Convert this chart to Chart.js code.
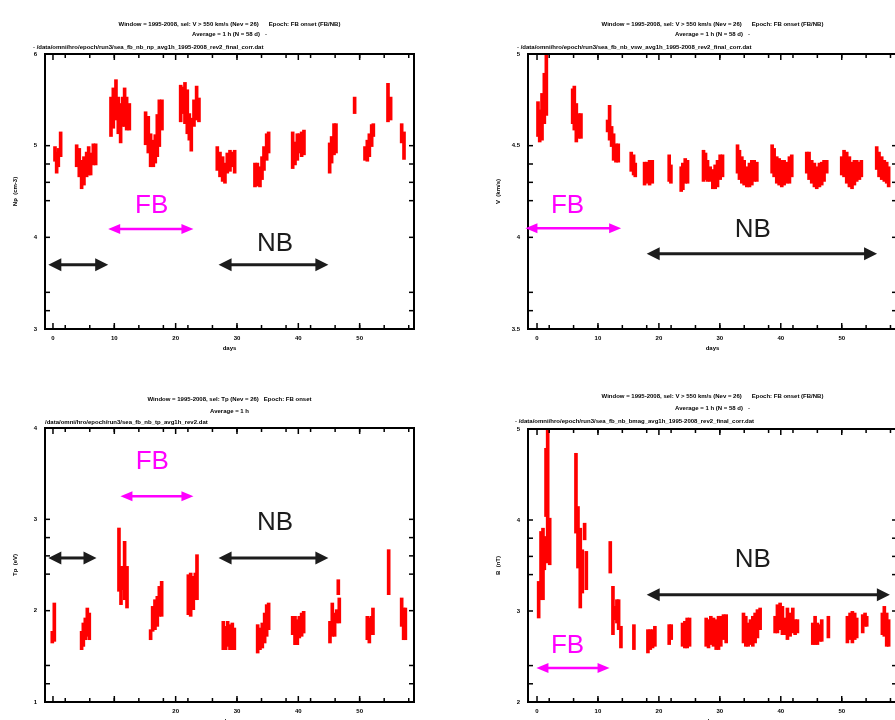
<!DOCTYPE html>
<html>
<head>
<meta charset="utf-8">
<title>Epoch panels</title>
<script src="https://cdn.jsdelivr.net/npm/chart.js@4.4.1/dist/chart.umd.min.js"></script>
<style>
  html, body { margin: 0; padding: 0; background: #fff; }
  body { width: 895px; height: 720px; overflow: hidden; position: relative; }
  canvas { position: absolute; }
</style>
</head>
<body>
<canvas id="plot1" width="450" height="360" style="left:0px;top:0px"></canvas>
<canvas id="plot2" width="460" height="360" style="left:450px;top:0px"></canvas>
<canvas id="plot3" width="450" height="370" style="left:0px;top:360px"></canvas>
<canvas id="plot4" width="460" height="370" style="left:450px;top:360px"></canvas>
<script>
// shared time axis (days from epoch)
const xLabels = [0, 10, 20, 30, 40, 50];
const xMinor = [2, 6, 10, 14, 18, 22, 26, 30, 34, 38, 42, 46, 50, 54, 58];

// ---- panel 1: density ----
const p1Time = [0.33, 0.6, 0.87, 1.25,
  3.86, 4.29, 4.67, 5.05, 5.49, 5.82, 6.14, 6.58, 6.96,
  9.46, 9.84, 10.27, 10.65, 11.03, 11.36, 11.68, 12.01, 12.45,
  15.1, 15.54, 15.92, 16.36, 16.68, 17.01, 17.34, 17.77,
  20.82, 21.14, 21.52, 21.9, 22.23, 22.55, 22.99, 23.42, 23.8,
  26.79, 27.23, 27.66, 28.04, 28.42, 28.86, 29.29, 29.62,
  32.93, 33.32, 33.75, 34.08, 34.4, 34.84, 35.16,
  39.08, 39.46, 39.84, 40.16, 40.54, 40.92,
  45.11, 45.43, 45.82, 46.14,
  49.18,
  50.87, 51.25, 51.58, 51.96, 52.23,
  54.62, 55.05,
  56.85, 57.23];
const p1Low = [4.83, 4.70, 4.77, 4.88,
  4.77, 4.66, 4.53, 4.57, 4.66, 4.68, 4.68, 4.79, 4.79,
  5.10, 5.19, 5.28, 5.13, 5.03, 5.21, 5.21, 5.17, 5.17,
  5.01, 4.92, 4.77, 4.77, 4.81, 4.88, 4.99, 5.17,
  5.26, 5.35, 5.24, 5.13, 5.06, 4.94, 5.21, 5.28, 5.26,
  4.73, 4.66, 4.61, 4.59, 4.70, 4.72, 4.77, 4.70,
  4.55, 4.56, 4.55, 4.63, 4.73, 4.84, 4.92,
  4.75, 4.79, 4.84, 4.92, 4.88, 4.90,
  4.70, 4.81, 4.90, 4.92,
  5.35,
  4.84, 4.83, 4.88, 4.99, 5.10,
  5.26, 5.28,
  5.03, 4.85];
const p1High = [4.99, 4.93, 4.97, 5.15,
  5.01, 4.97, 4.84, 4.88, 4.93, 4.99, 4.92, 5.02, 5.02,
  5.53, 5.63, 5.72, 5.53, 5.46, 5.53, 5.63, 5.53, 5.46,
  5.37, 5.32, 5.13, 5.06, 5.12, 5.34, 5.50, 5.50,
  5.66, 5.64, 5.69, 5.61, 5.35, 5.30, 5.50, 5.65, 5.52,
  4.99, 4.93, 4.88, 4.81, 4.92, 4.95, 4.93, 4.95,
  4.81, 4.81, 4.77, 4.88, 4.99, 5.13, 5.15,
  5.15, 5.04, 5.13, 5.13, 5.15, 5.17,
  5.03, 5.10, 5.24, 5.24,
  5.53,
  4.99, 5.06, 5.13, 5.23, 5.24,
  5.68, 5.53,
  5.24, 5.15];
const p1YTicks = [3, 4, 5, 6];
const p1YMinor = [4.8, 4.6, 4.4, 3.4, 3.2];
const p1Marks = [
  { kind: 'FB', from: 9.0, to: 22.9, y: 4.09, label: 'FB', lx: 16.1, ly: 4.34 },
  { kind: 'NB', from: -0.76, to: 9.0, y: 3.70 },
  { kind: 'NB', from: 27.0, to: 44.9, y: 3.70, label: 'NB', lx: 36.2, ly: 3.93 }
];

// ---- panel 2: speed ----
const p2Time = [0.16, 0.44, 0.82, 1.2, 1.53,
  5.85, 6.12, 6.45, 6.83, 7.21,
  11.58, 11.91, 12.24, 12.57, 12.95, 13.33,
  15.46, 15.85, 16.12,
  17.65, 18.03, 18.47, 18.91,
  21.69, 21.97,
  23.66, 23.93, 24.32, 24.7,
  27.32, 27.65, 27.98, 28.42, 28.85, 29.23, 29.62, 30.05, 30.44,
  32.9, 33.22, 33.61, 33.99, 34.43, 34.86, 35.25, 35.63, 36.07,
  38.58, 38.91, 39.34, 39.73, 40.16, 40.55, 40.98, 41.42, 41.8,
  44.26, 44.64, 45.08, 45.52, 45.9, 46.34, 46.72, 47.1, 47.54,
  50.0, 50.38, 50.82, 51.26, 51.69, 52.08, 52.46, 52.9, 53.22,
  55.74, 56.12, 56.56, 56.99, 57.38, 57.7];
const p2Low = [4.55, 4.52, 4.53, 4.62, 4.665,
  4.62, 4.585, 4.52, 4.54, 4.54,
  4.575, 4.53, 4.495, 4.42, 4.41, 4.41,
  4.36, 4.34, 4.33,
  4.285, 4.295, 4.285, 4.295,
  4.305, 4.295,
  4.25, 4.26, 4.295, 4.295,
  4.305, 4.315, 4.305, 4.305, 4.265, 4.265, 4.275, 4.315, 4.33,
  4.35, 4.315, 4.295, 4.285, 4.275, 4.275, 4.285, 4.305, 4.305,
  4.35, 4.33, 4.295, 4.285, 4.275, 4.285, 4.295, 4.295, 4.33,
  4.35, 4.315, 4.295, 4.275, 4.265, 4.275, 4.285, 4.305, 4.35,
  4.34, 4.33, 4.295, 4.275, 4.265, 4.285, 4.305, 4.315, 4.33,
  4.37, 4.33, 4.315, 4.305, 4.295, 4.275];
const p2High = [4.74, 4.695, 4.785, 4.895, 4.995,
  4.81, 4.825, 4.73, 4.675, 4.675,
  4.64, 4.72, 4.605, 4.565, 4.51, 4.51,
  4.465, 4.45, 4.405,
  4.41, 4.41, 4.42, 4.42,
  4.45, 4.395,
  4.385, 4.405, 4.43, 4.42,
  4.475, 4.46, 4.42, 4.385, 4.37, 4.395, 4.42, 4.45, 4.45,
  4.505, 4.475, 4.44, 4.42, 4.385, 4.405, 4.42, 4.42, 4.41,
  4.505, 4.485, 4.44, 4.43, 4.42, 4.42, 4.41, 4.44, 4.45,
  4.465, 4.465, 4.42, 4.405, 4.385, 4.405, 4.41, 4.42, 4.42,
  4.44, 4.475, 4.465, 4.44, 4.41, 4.42, 4.42, 4.41, 4.42,
  4.495, 4.465, 4.44, 4.42, 4.41, 4.385];
const p2YTicks = [3.5, 4, 4.5, 5];
const p2YMinor = [4.4, 4.3, 4.2, 3.7, 3.6];
const p2Marks = [
  { kind: 'FB', from: -1.9, to: 13.8, y: 4.05, label: 'FB', lx: 5.0, ly: 4.17 },
  { kind: 'NB', from: 18.0, to: 55.8, y: 3.91, label: 'NB', lx: 35.4, ly: 4.04 }
];

// ---- panel 3: temperature ----
const p3Time = [-0.11, 0.22,
  4.67, 4.95, 5.27, 5.6, 5.92,
  10.76, 11.09, 11.36, 11.68, 12.07,
  15.92, 16.25, 16.63, 17.01, 17.34, 17.72,
  22.07, 22.45, 22.88, 23.21, 23.48,
  27.77, 28.15, 28.48, 28.86, 29.24, 29.57,
  33.37, 33.75, 34.13, 34.51, 34.84, 35.16,
  39.08, 39.46, 39.84, 40.16, 40.54, 40.87,
  45.16, 45.54, 45.92, 46.25, 46.52, 46.68,
  51.25, 51.58, 51.9, 52.17,
  54.73,
  56.85, 57.17, 57.45];
const p3Low = [1.646, 1.664,
  1.573, 1.609, 1.682, 1.719, 1.682,
  2.212, 2.066, 2.230, 2.120, 2.029,
  1.682, 1.774, 1.792, 1.828, 1.938, 1.938,
  1.956, 1.938, 2.011, 2.120, 2.120,
  1.573, 1.573, 1.609, 1.573, 1.573, 1.573,
  1.536, 1.573, 1.591, 1.646, 1.719, 1.792,
  1.737, 1.628, 1.628, 1.701, 1.719, 1.755,
  1.646, 1.719, 1.719, 1.865, 2.175, 1.865,
  1.682, 1.646, 1.737, 1.737,
  2.175,
  1.828, 1.682, 1.682];
const p3High = [1.774, 2.084,
  1.774, 1.865, 1.920, 2.029, 1.974,
  2.905, 2.485, 2.485, 2.759, 2.485,
  1.792, 2.047, 2.120, 2.157, 2.266, 2.321,
  2.394, 2.412, 2.376, 2.412, 2.613,
  1.883, 1.828, 1.883, 1.847, 1.865, 1.810,
  1.847, 1.810, 1.865, 1.974, 2.066, 2.084,
  1.938, 1.938, 1.901, 1.938, 1.974, 1.993,
  1.883, 2.084, 1.974, 2.011, 2.339, 2.139,
  1.938, 1.920, 1.938, 2.029,
  2.668,
  2.139, 2.029, 2.029];
const p3YTicks = [1, 2, 3, 4];
const p3YMinor = [2.8, 2.6, 2.4, 1.4, 1.2];
const p3XLabels = [20, 30, 40, 50];
const p3Marks = [
  { kind: 'FB', from: 11.0, to: 22.9, y: 3.252, label: 'FB', lx: 16.2, ly: 3.635 },
  { kind: 'NB', from: -0.76, to: 7.1, y: 2.577 },
  { kind: 'NB', from: 27.0, to: 44.9, y: 2.577, label: 'NB', lx: 36.2, ly: 2.96 }
];

// ---- panel 4: field magnitude ----
const p4Time = [0.27, 0.66, 0.98, 1.2, 1.48, 1.75, 2.08,
  6.39, 6.72, 7.1, 7.43, 7.81, 8.09,
  12.02, 12.46, 12.79, 13.11, 13.39, 13.77,
  15.9,
  18.2, 18.58, 18.96, 19.34,
  21.69, 22.02,
  23.88, 24.26, 24.64, 25.03,
  27.76, 28.14, 28.52, 28.96, 29.4, 29.78, 30.16, 30.6, 31.04,
  33.88, 34.26, 34.64, 35.03, 35.41, 35.79, 36.17, 36.61,
  39.07, 39.45, 39.89, 40.27, 40.71, 41.09, 41.53, 41.97, 42.35, 42.73,
  45.25, 45.63, 46.01, 46.45, 46.72, 47.81,
  50.93, 51.37, 51.75, 52.13, 52.46, 53.44, 53.83, 54.1,
  56.67, 56.99, 57.38, 57.7];
const p4Low = [2.923, 3.124, 3.124, 3.453, 4.038, 3.527, 3.508,
  3.856, 3.472, 3.033, 3.197, 3.782, 3.234,
  3.417, 2.740, 2.905, 2.868, 2.795, 2.594,
  2.576,
  2.539, 2.576, 2.594, 2.612,
  2.631, 2.686,
  2.612, 2.594, 2.594, 2.612,
  2.612, 2.594, 2.631, 2.612, 2.576, 2.576, 2.612, 2.686, 2.649,
  2.649, 2.612, 2.612, 2.631, 2.612, 2.649, 2.704, 2.795,
  2.759, 2.759, 2.795, 2.740, 2.740, 2.686, 2.722, 2.759, 2.740, 2.759,
  2.631, 2.631, 2.631, 2.667, 2.667, 2.704,
  2.649, 2.686, 2.649, 2.686, 2.704, 2.759, 2.832, 2.832,
  2.740, 2.722, 2.612, 2.612];
const p4High = [3.325, 3.874, 3.910, 3.819, 4.788, 4.989, 4.020,
  4.733, 4.148, 3.910, 3.673, 3.965, 3.655,
  3.764, 3.271, 3.051, 3.124, 3.124, 2.832,
  2.850,
  2.795, 2.795, 2.795, 2.832,
  2.850, 2.850,
  2.868, 2.887, 2.923, 2.923,
  2.923, 2.905, 2.942, 2.923, 2.905, 2.942, 2.942, 2.960, 2.960,
  2.978, 2.942, 2.868, 2.905, 2.942, 2.978, 3.015, 3.033,
  2.942, 3.069, 3.088, 3.051, 2.923, 3.033, 2.978, 3.033, 2.905, 2.905,
  2.868, 2.942, 2.868, 2.850, 2.905, 2.942,
  2.942, 2.978, 2.996, 2.978, 2.923, 2.960, 2.978, 2.942,
  2.978, 3.051, 2.978, 2.905];
const p4YTicks = [2, 3, 4, 5];
const p4YMinor = [3.8, 3.6, 3.4, 2.4, 2.2];
const p4Marks = [
  { kind: 'FB', from: -0.1, to: 11.9, y: 2.375, label: 'FB', lx: 5.0, ly: 2.62 },
  { kind: 'NB', from: 18.0, to: 57.9, y: 3.179, label: 'NB', lx: 35.4, ly: 3.563 }
];

const panels = {
  plot1: {
    time: p1Time, low: p1Low, high: p1High, yTicks: p1YTicks, yMinor: p1YMinor, xLabels: xLabels, marks: p1Marks,
    xMin: -1.3, xMax: 58.86, yTitle: 'Np  (cm-3)', xTitle: 'days',
    pad: { left: 8, right: 36, top: 54, bottom: 4 },
    titles: ['Window = 1995-2008, sel: V > 550 km/s (Nev = 26)      Epoch: FB onset (FB/NB)',
             'Average = 1 h (N = 58 d)   -',
             '- /data/omni/hro/epoch/run3/sea_fb_nb_np_avg1h_1995-2008_rev2_final_corr.dat'],
    titleY: [-30, -20, -7], pathX: -12
  },
  plot2: {
    time: p2Time, low: p2Low, high: p2High, yTicks: p2YTicks, yMinor: p2YMinor, xLabels: xLabels, marks: p2Marks,
    xMin: -1.48, xMax: 59.07, yTitle: 'V  (km/s)', xTitle: 'days',
    pad: { left: 41, right: 13, top: 54, bottom: 4 },
    titles: ['Window = 1995-2008, sel: V > 550 km/s (Nev = 26)      Epoch: FB onset (FB/NB)',
             'Average = 1 h (N = 58 d)   -',
             '- /data/omni/hro/epoch/run3/sea_fb_nb_vsw_avg1h_1995-2008_rev2_final_corr.dat'],
    titleY: [-30, -20, -7], pathX: -11
  },
  plot3: {
    time: p3Time, low: p3Low, high: p3High, yTicks: p3YTicks, yMinor: p3YMinor, xLabels: p3XLabels, marks: p3Marks,
    xMin: -1.3, xMax: 58.86, yTitle: 'Tp  (eV)', xTitle: 'days',
    pad: { left: 8, right: 36, top: 68, bottom: 1 },
    titles: ['Window = 1995-2008, sel: Tp (Nev = 26)   Epoch: FB onset',
             'Average = 1 h',
             '/data/omni/hro/epoch/run3/sea_fb_nb_tp_avg1h_rev2.dat'],
    titleY: [-29, -17, -6], pathX: 0
  },
  plot4: {
    time: p4Time, low: p4Low, high: p4High, yTicks: p4YTicks, yMinor: p4YMinor, xLabels: xLabels, marks: p4Marks,
    xMin: -1.48, xMax: 59.07, yTitle: 'B  (nT)', xTitle: 'days',
    pad: { left: 41, right: 13, top: 69, bottom: 1 },
    titles: ['Window = 1995-2008, sel: V > 550 km/s (Nev = 26)      Epoch: FB onset (FB/NB)',
             'Average = 1 h (N = 58 d)   -',
             '- /data/omni/hro/epoch/run3/sea_fb_nb_bmag_avg1h_1995-2008_rev2_final_corr.dat'],
    titleY: [-33, -21, -8], pathX: -13
  }
};

const smallFont = { family: '"Liberation Sans", Arial, sans-serif', size: 6, weight: 'bold' };
const markStyle = {
  FB: { color: '#ff00ff', width: 2.5, head: 12, half: 5 },
  NB: { color: '#1c1c1c', width: 3, head: 13, half: 6.5 }
};

function arrow(ctx, x1, x2, y, s) {
  ctx.strokeStyle = s.color;
  ctx.fillStyle = s.color;
  ctx.lineWidth = s.width;
  ctx.beginPath();
  ctx.moveTo(x1 + s.head * 0.7, y);
  ctx.lineTo(x2 - s.head * 0.7, y);
  ctx.stroke();
  ctx.beginPath();
  ctx.moveTo(x1, y);
  ctx.lineTo(x1 + s.head, y - s.half);
  ctx.lineTo(x1 + s.head, y + s.half);
  ctx.closePath();
  ctx.fill();
  ctx.beginPath();
  ctx.moveTo(x2, y);
  ctx.lineTo(x2 - s.head, y - s.half);
  ctx.lineTo(x2 - s.head, y + s.half);
  ctx.closePath();
  ctx.fill();
}

// box with inward ticks on all four sides, titles, FB/NB markers
const framePlugin = {
  id: 'frame',
  afterDraw(chart) {
    const p = panels[chart.canvas.id];
    const { ctx, chartArea: a } = chart;
    const sx = chart.scales.x, sy = chart.scales.y;
    ctx.save();
    ctx.strokeStyle = '#000';
    ctx.lineWidth = 2;
    ctx.strokeRect(a.left, a.top, a.right - a.left, a.bottom - a.top);
    ctx.lineWidth = 1.5;
    const seg = (x1, y1, x2, y2) => { ctx.beginPath(); ctx.moveTo(x1, y1); ctx.lineTo(x2, y2); ctx.stroke(); };
    xMinor.forEach(v => {
      const px = sx.getPixelForValue(v);
      seg(px, a.bottom, px, a.bottom - 4);
      seg(px, a.top, px, a.top + 4);
    });
    xLabels.forEach(v => {
      const px = sx.getPixelForValue(v);
      seg(px, a.bottom, px, a.bottom - 6);
      seg(px, a.top, px, a.top + 6);
    });
    p.yTicks.concat(p.yMinor).forEach(v => {
      const py = sy.getPixelForValue(v);
      seg(a.left, py, a.left + 5, py);
      seg(a.right, py, a.right - 5, py);
    });

    ctx.fillStyle = '#000';
    ctx.font = 'bold 6px "Liberation Sans", Arial, sans-serif';
    ctx.textBaseline = 'middle';
    ctx.textAlign = 'center';
    const cx = (a.left + a.right) / 2;
    ctx.fillText(p.titles[0], cx, a.top + p.titleY[0]);
    ctx.fillText(p.titles[1], cx, a.top + p.titleY[1]);
    ctx.textAlign = 'left';
    ctx.fillText(p.titles[2], a.left + p.pathX, a.top + p.titleY[2]);

    p.marks.forEach(m => {
      const s = markStyle[m.kind];
      arrow(ctx, sx.getPixelForValue(m.from), sx.getPixelForValue(m.to), sy.getPixelForValue(m.y), s);
      if (m.label) {
        ctx.fillStyle = s.color;
        ctx.font = '26px "Liberation Sans", Arial, sans-serif';
        ctx.textAlign = 'center';
        ctx.textBaseline = 'middle';
        ctx.fillText(m.label, sx.getPixelForValue(m.lx), sy.getPixelForValue(m.ly));
      }
    });
    ctx.restore();
  }
};

function makePanel(id) {
  const p = panels[id];
  const bars = p.time.map((t, i) => ({ x: t, y: [p.low[i], p.high[i]] }));
  return new Chart(document.getElementById(id), {
    type: 'bar',
    data: {
      datasets: [{ data: bars, backgroundColor: '#ff0000', borderWidth: 0, barThickness: 3 }]
    },
    options: {
      responsive: false,
      animation: false,
      devicePixelRatio: 1,
      layout: { padding: p.pad },
      plugins: { legend: { display: false }, tooltip: { enabled: false } },
      scales: {
        x: {
          type: 'linear', min: p.xMin, max: p.xMax, offset: false,
          grid: { display: false, drawTicks: false }, border: { display: false },
          afterBuildTicks: s => { s.ticks = p.xLabels.map(v => ({ value: v })); },
          afterFit: s => { s.height = 27; },
          ticks: { padding: 6, font: smallFont, color: '#000', maxRotation: 0, autoSkip: false },
          title: { display: true, text: p.xTitle, font: smallFont, color: '#000', padding: { top: 0, bottom: 4 } }
        },
        y: {
          type: 'linear', min: p.yTicks[0], max: p.yTicks[p.yTicks.length - 1],
          grid: { display: false, drawTicks: false }, border: { display: false },
          afterBuildTicks: s => { s.ticks = p.yTicks.map(v => ({ value: v })); },
          afterFit: s => { s.width = 37; },
          ticks: { padding: 8, font: smallFont, color: '#000', autoSkip: false, callback: v => String(v) },
          title: { display: true, text: p.yTitle, font: smallFont, color: '#000', padding: { top: 4, bottom: 0 } }
        }
      }
    },
    plugins: [framePlugin]
  });
}

['plot1', 'plot2', 'plot3', 'plot4'].forEach(makePanel);
</script>
</body>
</html>
